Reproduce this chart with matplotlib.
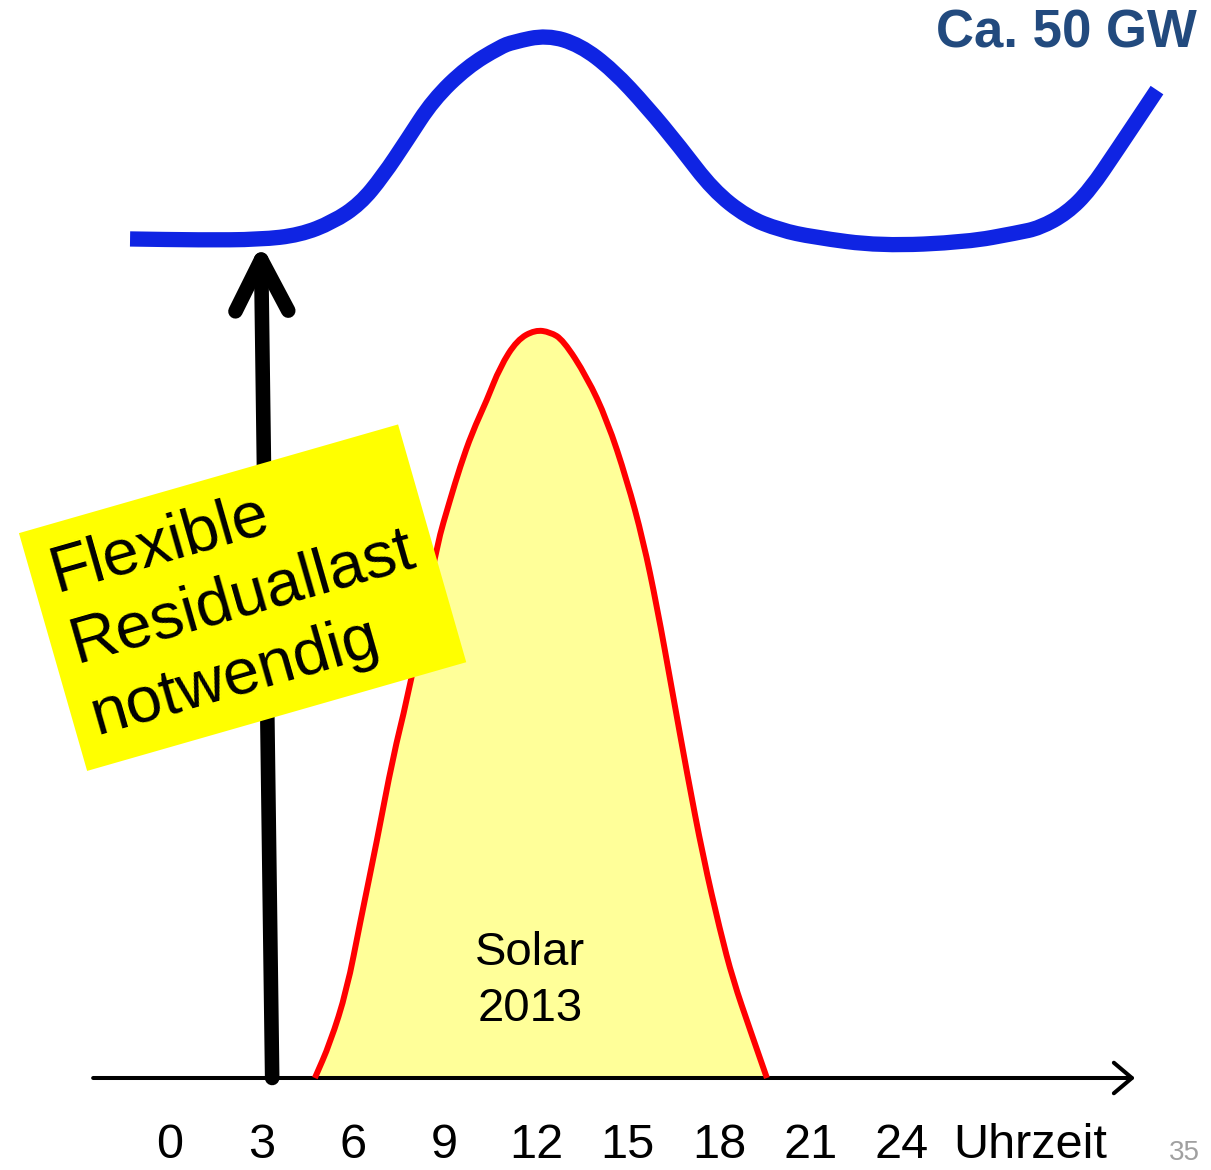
import matplotlib.pyplot as plt
from matplotlib.patches import FancyArrowPatch, ArrowStyle, PathPatch
from matplotlib.path import Path
import numpy as np

# Tageslastgang (GW) ueber der Uhrzeit
load_h = [-1.31, 0.98, 2.95, 4.26, 5.34, 6.23, 6.98, 7.77, 8.62, 9.74, 10.82, 11.25, 12.36,
          13.44, 14.52, 15.64, 16.72, 17.80, 18.92, 20.00, 21.08, 23.28, 26.13, 27.77, 28.52,
          29.41, 30.16, 31.05, 32.36]
load_gw = [40.30, 40.25, 40.27, 40.49, 41.11, 41.98, 43.32, 45.05, 46.97, 48.56, 49.52, 49.76, 50.10,
           49.62, 48.41, 46.64, 44.72, 42.65, 41.35, 40.73, 40.39, 39.96, 40.15, 40.59, 40.83,
           41.55, 42.65, 44.57, 47.45]

# Solareinspeisung 2013 (GW)
solar_h = [4.75, 5.25, 5.80, 6.23, 6.79, 7.31, 7.77, 8.30, 8.75, 9.18, 9.51, 9.90, 10.39, 10.82,
           11.38, 11.97, 12.46, 12.89, 13.67, 14.33, 14.98, 15.51, 15.97, 16.46, 16.95, 17.48,
           18.03, 18.46, 19.02, 19.57]
solar_gw = [0.0, 1.68, 4.23, 7.44, 11.43, 15.42, 18.16, 22.00, 25.60, 27.76, 29.35, 30.98, 32.56, 34.15,
            35.45, 35.93, 35.83, 35.45, 33.67, 31.60, 28.72, 25.84, 22.62, 18.64, 14.65, 10.61,
            7.11, 4.71, 2.31, 0.0]

ticks = [0, 3, 6, 9, 12, 15, 18, 21, 24]
tick_labels = [str(t) for t in ticks]


def smooth_path(xs, ys, close=False):
    # Punkte als Kontrollpunkte quadratischer Bezierkurven
    pts = np.column_stack([xs, ys])
    verts = [pts[0], (pts[0] + pts[1]) / 2]
    codes = [Path.MOVETO, Path.LINETO]
    for i in range(1, len(pts) - 1):
        verts += [pts[i], (pts[i] + pts[i + 1]) / 2]
        codes += [Path.CURVE3, Path.CURVE3]
    verts.append(pts[-1])
    codes.append(Path.LINETO)
    if close:
        verts.append(pts[0])
        codes.append(Path.CLOSEPOLY)
    return Path(verts, codes)


plt.rcParams['font.family'] = ['Liberation Sans', 'DejaVu Sans']

fig = plt.figure(figsize=(12.11, 11.70), dpi=100)
ax = fig.add_axes([0, 0, 1, 1])
ax.set_xlim(-5.574, 34.131)
ax.set_ylim(-4.419, 51.777)
ax.axis('off')

# Solar: Flaeche + rote Kontur
ax.add_patch(PathPatch(smooth_path(solar_h, solar_gw, close=True), fc='#ffff99', ec='none', zorder=1))

# Zeitachse mit Pfeil
ax.add_patch(FancyArrowPatch((-2.52, 0), (31.64, 0),
                             arrowstyle=ArrowStyle('->', head_length=13, head_width=11),
                             mutation_scale=1, lw=2.9, color='black', zorder=2,
                             shrinkA=0, shrinkB=0, capstyle='round'))

ax.add_patch(PathPatch(smooth_path(solar_h, solar_gw), fill=False, ec='#ff0000', lw=4.3,
                       capstyle='butt', joinstyle='round', zorder=3))

# Last
ax.add_patch(PathPatch(smooth_path(load_h, load_gw), fill=False, ec='#0f24e3', lw=11,
                       capstyle='butt', joinstyle='round', zorder=3))

# Pfeil: flexible Residuallast bis zur Lastkurve
arrow_bottom, arrow_top = 3.35, 2.98
ax.add_patch(FancyArrowPatch((arrow_bottom, 0), (arrow_top, np.interp(arrow_top, load_h, load_gw)),
                             arrowstyle=ArrowStyle('->', head_length=37, head_width=19),
                             mutation_scale=1, lw=10.5, color='black', zorder=4,
                             shrinkA=0, shrinkB=3, capstyle='round', joinstyle='round'))

ax.text(2.38, 23.07, 'Flexible\nResiduallast\nnotwendig', fontsize=47, rotation=16,
        rotation_mode='anchor', ha='center', va='center', multialignment='left',
        linespacing=1.3, zorder=5,
        bbox=dict(boxstyle='square,pad=0.3', fc='#ffff00', ec='none'))

ax.text(11.8, 4.66, 'Solar\n2013', fontsize=34, ha='center', va='center',
        linespacing=1.35, zorder=5)

ax.text(33.65, 50.15, 'Ca. 50 GW', fontsize=38, fontweight='bold', color='#224a7e',
        ha='right', va='center', zorder=5)

for t, lab in zip(ticks, tick_labels):
    ax.text(t, -3.85, lab, fontsize=35, ha='center', va='baseline')
ax.text(28.2, -3.85, 'Uhrzeit', fontsize=35, ha='center', va='baseline')
ax.text(33.25, -3.6, '35', fontsize=20, color='#a0a0a0', ha='center', va='center')

fig.savefig('out.png', dpi=100)
